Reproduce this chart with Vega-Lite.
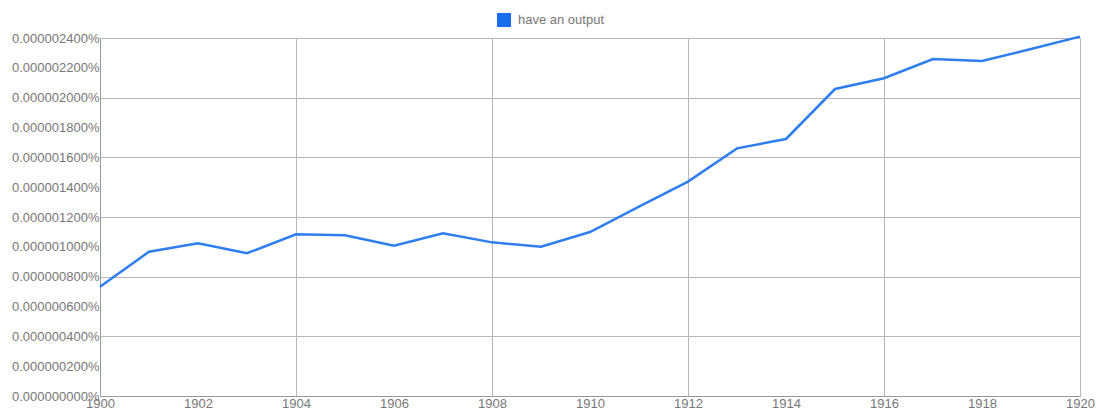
{
  "$schema": "https://vega.github.io/schema/vega-lite/v6.json",
  "width": 980,
  "height": 358,
  "autosize": {"type": "none"},
  "padding": {"left": 100, "top": 38, "right": 17, "bottom": 14},
  "background": "white",
  "config": {
    "view": {"stroke": null},
    "font": "Liberation Sans",
    "axis": {"labelFont": "Liberation Sans", "labelFontSize": 13, "labelColor": "#777777", "ticks": false, "title": null}
  },
  "data": {
    "values": [
      {"year": 1900, "value": 0.000000733, "series": "have an output"},
      {"year": 1901, "value": 0.000000967, "series": "have an output"},
      {"year": 1902, "value": 0.000001024, "series": "have an output"},
      {"year": 1903, "value": 0.000000957, "series": "have an output"},
      {"year": 1904, "value": 0.000001084, "series": "have an output"},
      {"year": 1905, "value": 0.000001077, "series": "have an output"},
      {"year": 1906, "value": 0.000001008, "series": "have an output"},
      {"year": 1907, "value": 0.000001091, "series": "have an output"},
      {"year": 1908, "value": 0.000001030, "series": "have an output"},
      {"year": 1909, "value": 0.000001001, "series": "have an output"},
      {"year": 1910, "value": 0.000001099, "series": "have an output"},
      {"year": 1911, "value": 0.000001269, "series": "have an output"},
      {"year": 1912, "value": 0.000001437, "series": "have an output"},
      {"year": 1913, "value": 0.000001660, "series": "have an output"},
      {"year": 1914, "value": 0.000001723, "series": "have an output"},
      {"year": 1915, "value": 0.000002058, "series": "have an output"},
      {"year": 1916, "value": 0.000002130, "series": "have an output"},
      {"year": 1917, "value": 0.000002259, "series": "have an output"},
      {"year": 1918, "value": 0.000002246, "series": "have an output"},
      {"year": 1919, "value": 0.000002326, "series": "have an output"},
      {"year": 1920, "value": 0.000002409, "series": "have an output"}
    ]
  },
  "mark": {"type": "line", "strokeWidth": 2.5, "interpolate": "linear"},
  "encoding": {
    "x": {
      "field": "year",
      "type": "quantitative",
      "scale": {"domain": [1900, 1920], "nice": false, "zero": false},
      "axis": {
        "values": [1900, 1902, 1904, 1906, 1908, 1910, 1912, 1914, 1916, 1918, 1920],
        "format": "d",
        "labelPadding": 1,
        "labelFlush": false,
        "domainColor": "#999999",
        "gridColor": "#b8b8b8",
        "gridOpacity": {"condition": {"test": "datum.value % 4 === 0 && datum.value > 1900", "value": 1}, "value": 0}
      }
    },
    "y": {
      "field": "value",
      "type": "quantitative",
      "scale": {"domain": [0, 0.0000024], "nice": false},
      "axis": {
        "values": [0, 0.0000002, 0.0000004, 0.0000006, 0.0000008, 0.000001, 0.0000012, 0.0000014, 0.0000016, 0.0000018, 0.000002, 0.0000022, 0.0000024],
        "labelExpr": "format(datum.value, '.9f') + '%'",
        "labelPadding": 1,
        "labelFlush": false,
        "domainColor": "#999999",
        "gridColor": "#b8b8b8",
        "gridOpacity": {"condition": {"test": "abs(datum.value / 0.0000004 - round(datum.value / 0.0000004)) < 0.01 && datum.value > 0", "value": 1}, "value": 0}
      }
    },
    "color": {
      "field": "series",
      "type": "nominal",
      "scale": {"range": ["#2f7ef0"]},
      "legend": {
        "orient": "none",
        "legendX": 397,
        "legendY": -25,
        "title": null,
        "symbolType": "square",
        "symbolSize": 196,
        "symbolStrokeWidth": 0,
        "labelFont": "Liberation Sans",
        "labelFontSize": 13,
        "labelColor": "#777777",
        "labelOffset": 7,
        "encode": {"symbols": {"update": {"fill": {"value": "#1a6ff0"}, "stroke": {"value": "#1a6ff0"}}}}
      }
    }
  }
}
